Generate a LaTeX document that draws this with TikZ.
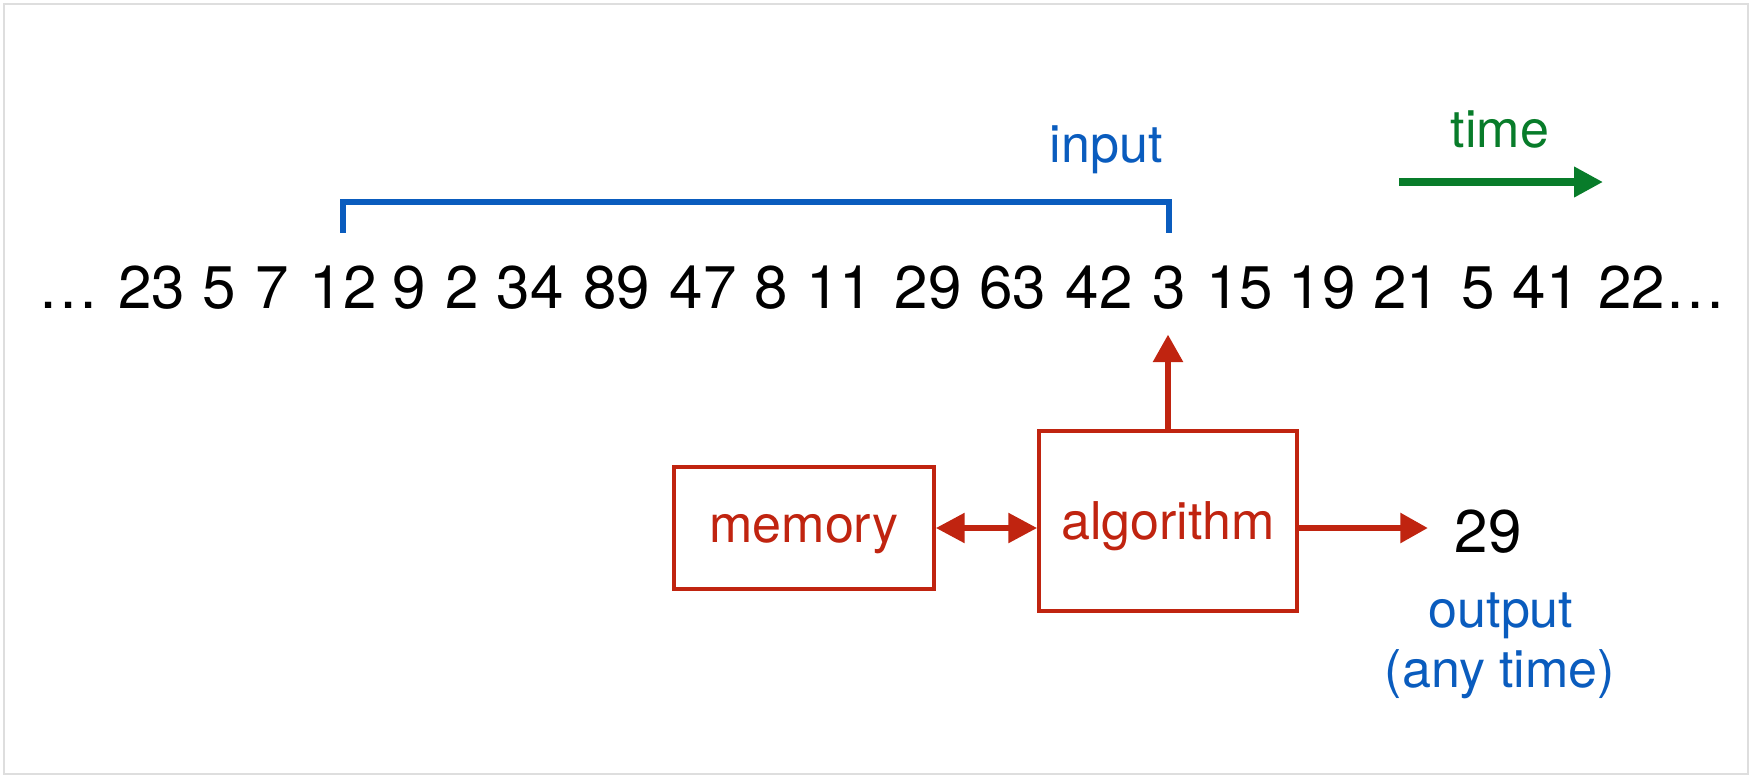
\documentclass[tikz,border=0pt]{standalone}
\usepackage{fontspec}
\setmainfont{TeX Gyre Heros}
\usetikzlibrary{arrows.meta,calc,positioning}
\definecolor{inblue}{RGB}{10,92,190}
\definecolor{algred}{RGB}{192,36,16}
\definecolor{timegreen}{RGB}{8,124,42}
\definecolor{framegray}{RGB}{222,222,222}
\tikzset{
  num/.style={inner sep=0pt,anchor=base,font=\fontsize{17.1}{20}\selectfont},
  lbl/.style={inner sep=0pt,anchor=base,font=\fontsize{14.8}{17}\selectfont},
  box/.style={draw=algred,line width=1pt,text=algred,text depth=0pt,
    font=\fontsize{14.8}{17}\selectfont},
  redarrow/.style={algred,line width=1.7pt,-{Triangle[length=7.8pt,width=8.2pt]}},
  bracket/.style={inblue,line width=1.7pt,miter limit=10}
}
\begin{document}
\begin{tikzpicture}[x=0.01cm,y=-0.01cm]
  \useasboundingbox (0,0) rectangle (1754,778);
  \draw[framegray,line width=0.6pt] (4,4) rectangle (1748,774);

  % the stream
  \foreach \x/\t [count=\i] in {69/…,151.5/23,219/5,272/7,343/12,409.5/9,
      462.5/2,530/34,616.5/89,703/47,771.5/8,839.5/11,928/29,1012.5/63,
      1099/42,1169/3,1239.5/15,1322/19,1406.5/21,1478/5,1546/41,1662/22…}
    \node[num] (n\i) at (\x,308) {\t};

  % input window
  \draw[bracket] ($(n5.north)+(0,-32)$) -- ($(n5.north)+(0,-63)$)
    -| ($(n16.north)+(0,-32)$);
  \node[lbl,text=inblue] (input) at (1106,162) {input};

  % time
  \coordinate (t0) at (1399,182);
  \coordinate (t1) at (1603,182);
  \node[lbl,text=timegreen] (time) at (1500,147) {time};
  \draw[timegreen,line width=2pt,-{Triangle[length=8.2pt,width=8.2pt]}] (t0) -- (t1);

  % machine
  \node[box,minimum width=2.6cm,minimum height=1.22cm] (mem) at (804,528) {memory};
  \node[box,minimum width=2.58cm,minimum height=1.8cm] (alg) at (1168,521) {algorithm};
  \node[num] (res) at (1488,552) {29};
  \node[lbl,text=inblue] (out1) at (1501,627) {output};
  \node[lbl,text=inblue] (out2) at (1500,687) {(any time)};

  \draw[redarrow,shorten >=7.1pt] (alg.north) -- (alg.north |- n16.south);
  \draw[redarrow,{Triangle[length=8.2pt,width=8.2pt]}-{Triangle[length=8.2pt,width=8.2pt]}]
    (mem.east) -- (mem.east -| alg.west);
  \draw[redarrow,shorten >=7.4pt] (alg.east |- mem.east) -- (mem.east -| res.west);
\end{tikzpicture}
\end{document}
